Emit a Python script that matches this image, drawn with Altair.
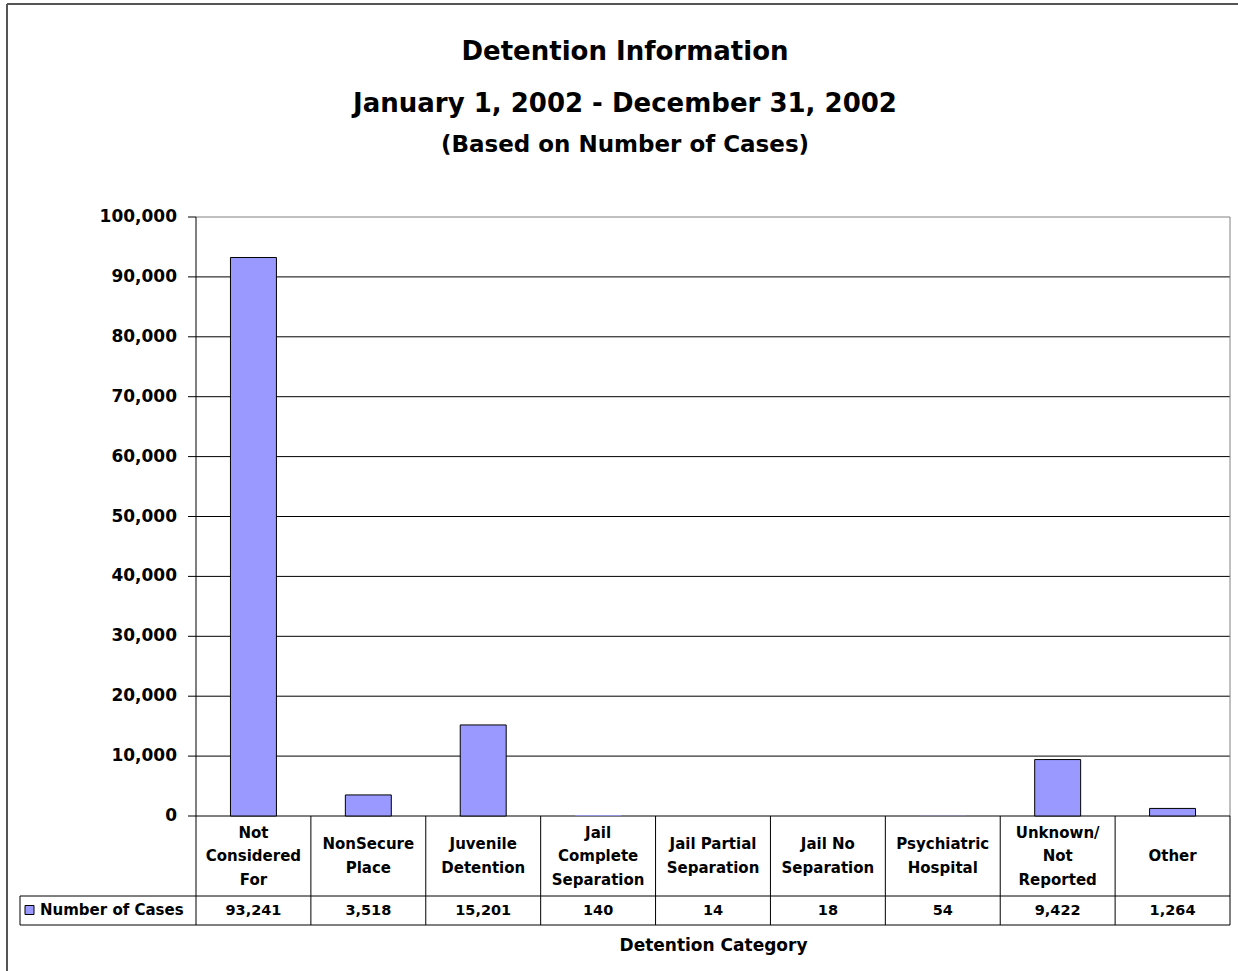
import altair as alt
import pandas as pd

# ---------------- data ----------------
categories = [
    "Not\nConsidered\nFor",
    "NonSecure\nPlace",
    "Juvenile\nDetention",
    "Jail\nComplete\nSeparation",
    "Jail Partial\nSeparation",
    "Jail No\nSeparation",
    "Psychiatric\nHospital",
    "Unknown/\nNot\nReported",
    "Other",
]
cases = [93241, 3518, 15201, 140, 14, 18, 54, 9422, 1264]
series_name = "Number of Cases"
y_ticks = [0, 10000, 20000, 30000, 40000, 50000, 60000, 70000, 80000, 90000, 100000]
y_max = 100000

# ---------------- layout (pixels in the 1238x971 page) ----------------
LEFT, TOP, RIGHT_PAD, BOTTOM_PAD = 20, 217, 8, 46
PLOT_X0, PLOT_X1 = 196, 1230
COL_W = (PLOT_X1 - PLOT_X0) / len(categories)
ZERO_PX = 816
PX_PER_CASE = (ZERO_PX - TOP) / y_max
TABLE_MID, TABLE_ROW, TABLE_BOTTOM = 896, 910.5, 925
HEAD_CENTER = (ZERO_PX + TABLE_MID) / 2
LINE_H = 23.5
W = PLOT_X1 - LEFT
H = TABLE_BOTTOM - TOP
FONT = "DejaVu Sans"


def xu(px):
    return (px - PLOT_X0) / COL_W


def yu(py):
    return (ZERO_PX - py) / PX_PER_CASE


n = len(categories)
xscale = alt.Scale(domain=[xu(LEFT), n], nice=False, zero=False)
yscale = alt.Scale(domain=[yu(TABLE_BOTTOM), y_max], nice=False, zero=False)
x_axis = alt.Axis(
    title="Detention Category", labels=False, ticks=False, domain=False, grid=False,
    titleFont=FONT, titleFontSize=17, titleFontWeight="bold", titleColor="black",
    titleX=(PLOT_X0 + PLOT_X1) / 2 - LEFT, titleY=25, titleBaseline="alphabetic",
    titleAlign="center", titleAnchor="middle",
)

bars_df = pd.DataFrame({
    "category": categories,
    "cases": cases,
    "x0": [i + 0.3 for i in range(n)],
    "x1": [i + 0.7 for i in range(n)],
    "series": [series_name] * n,
})

bars = alt.Chart(bars_df).mark_bar(stroke="black", opacity=1).encode(
    x=alt.X("x0:Q", scale=xscale, axis=x_axis),
    x2="x1:Q",
    y=alt.Y("cases:Q", scale=yscale, axis=None),
    y2=alt.datum(0),
    strokeWidth=alt.condition("datum.cases < 500", alt.value(0), alt.value(1)),
    color=alt.Color(
        "series:N",
        scale=alt.Scale(range=["#9999FF"]),
        legend=alt.Legend(
            orient="none", legendX=2, legendY=TABLE_ROW - TOP - 8, title=None,
            symbolType="square", symbolSize=81, symbolStrokeColor="black",
            symbolStrokeWidth=1, symbolOpacity=1, labelFont=FONT, labelFontSize=15,
            labelFontWeight="bold", labelColor="black", labelOffset=3, padding=0,
        ),
    ),
)

# ---------------- lines: gridlines, axis, ticks, data table, frame ----------------
rows = []
BLACK, GRAY, FRAME = "#000000", "#808080", "#555555"
for v in y_ticks[1:-1]:
    rows.append(dict(x=0, x2=n, y=v, y2=v, c=BLACK, w=1))
rows.append(dict(x=0, x2=n, y=y_max, y2=y_max, c=GRAY, w=1))
rows.append(dict(x=n, x2=n, y=0, y2=y_max, c=GRAY, w=1))
for v in y_ticks:
    rows.append(dict(x=xu(188), x2=0, y=v, y2=v, c=BLACK, w=1))
rows.append(dict(x=0, x2=0, y=yu(TABLE_BOTTOM), y2=y_max, c=BLACK, w=1))
for i in range(1, n + 1):
    rows.append(dict(x=i, x2=i, y=yu(TABLE_BOTTOM), y2=0, c=BLACK, w=1))
rows.append(dict(x=0, x2=n, y=0, y2=0, c=BLACK, w=1))
rows.append(dict(x=xu(LEFT), x2=n, y=yu(TABLE_MID), y2=yu(TABLE_MID), c=BLACK, w=1))
rows.append(dict(x=xu(LEFT), x2=n, y=yu(TABLE_BOTTOM), y2=yu(TABLE_BOTTOM), c=BLACK, w=1))
rows.append(dict(x=xu(LEFT), x2=xu(LEFT), y=yu(TABLE_BOTTOM), y2=yu(TABLE_MID), c=BLACK, w=1))
# outer chart frame
rows.append(dict(x=xu(7), x2=xu(7), y=yu(971), y2=yu(4), c=FRAME, w=2))
rows.append(dict(x=xu(7), x2=xu(1238), y=yu(4), y2=yu(4), c=FRAME, w=2))
lines_df = pd.DataFrame(rows)

lines = alt.Chart(lines_df).mark_rule().encode(
    x=alt.X("x:Q", scale=xscale, axis=x_axis),
    x2="x2:Q",
    y=alt.Y("y:Q", scale=yscale, axis=None),
    y2="y2:Q",
    color=alt.Color("c:N", scale=None),
    strokeWidth=alt.StrokeWidth("w:Q", scale=None),
)

# ---------------- y tick labels ----------------
ylab_df = pd.DataFrame({"v": y_ticks, "lx": [xu(177)] * len(y_ticks)})
ylabels = alt.Chart(ylab_df).mark_text(
    align="right", baseline="middle", font=FONT, fontSize=17, fontWeight="bold", color="black"
).encode(
    x=alt.X("lx:Q", scale=xscale, axis=x_axis),
    y=alt.Y("v:Q", scale=yscale, axis=None),
    text=alt.Text("v:Q", format=","),
)

# ---------------- data table texts ----------------
head_df = pd.DataFrame({
    "category": categories,
    "xc": [i + 0.5 for i in range(n)],
    "yc": [yu(HEAD_CENTER - (c.count("\n")) * LINE_H / 2) for c in categories],
})
head = alt.Chart(head_df).mark_text(
    align="center", baseline="middle", font=FONT, fontSize=15, fontWeight="bold",
    color="black", lineBreak="\n", lineHeight=LINE_H,
).encode(
    x=alt.X("xc:Q", scale=xscale, axis=x_axis),
    y=alt.Y("yc:Q", scale=yscale, axis=None),
    text="category:N",
)

val_df = pd.DataFrame({
    "cases": cases,
    "xc": [i + 0.5 for i in range(n)],
    "yc": [yu(TABLE_ROW)] * n,
})
vals = alt.Chart(val_df).mark_text(
    align="center", baseline="middle", font=FONT, fontSize=14.5, fontWeight="bold", color="black"
).encode(
    x=alt.X("xc:Q", scale=xscale, axis=x_axis),
    y=alt.Y("yc:Q", scale=yscale, axis=None),
    text=alt.Text("cases:Q", format=","),
)

chart = alt.layer(lines, bars, ylabels, head, vals).properties(
    width=W,
    height=H,
    title=alt.Title(
        text=["Detention Information", "January 1, 2002 - December 31, 2002"],
        subtitle="(Based on Number of Cases)",
        font=FONT, fontSize=26, fontWeight="bold", color="black", lineHeight=52,
        subtitleFont=FONT, subtitleFontSize=23, subtitleFontWeight="bold",
        subtitleColor="black", subtitlePadding=17, anchor="middle", offset=-154,
    ),
    autosize=alt.AutoSizeParams(type="none"),
    padding={"left": LEFT, "top": TOP, "right": RIGHT_PAD, "bottom": BOTTOM_PAD},
).configure(
    background="white",
    view=alt.ViewConfig(stroke="transparent", strokeWidth=0),
)

chart.save("out.html", embed_options={"renderer": "svg", "actions": False})
